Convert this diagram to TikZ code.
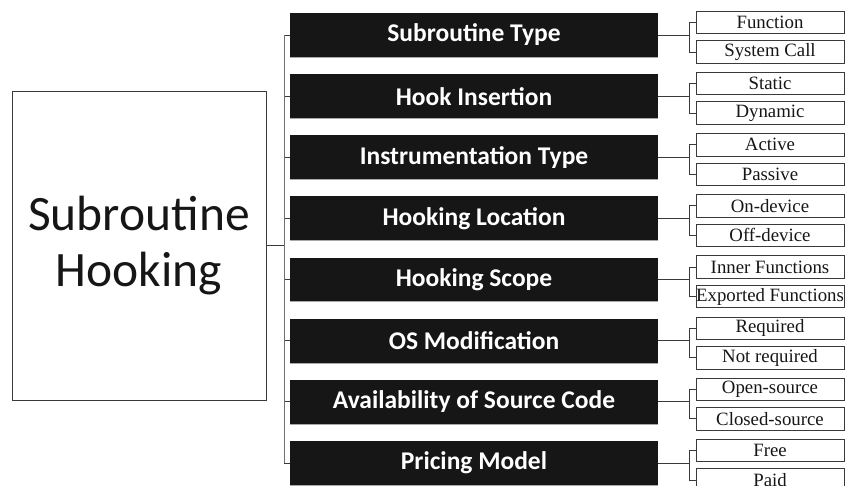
\documentclass[tikz,border=0pt]{standalone}
\usepackage{fontspec}
\setmainfont{Liberation Serif}
\newfontfamily\calfont{Carlito}
\definecolor{barblack}{HTML}{161616}
\definecolor{linegray}{HTML}{3A3A3A}
\definecolor{stemgray}{HTML}{707070}
\begin{document}
\begin{tikzpicture}[x=1pt,y=-1pt,
  mainbox/.style={draw=linegray, line width=0.9pt, minimum width=254pt, minimum height=309pt, inner sep=0pt, align=center, text=barblack, font=\calfont\fontsize{49.5}{56}\selectfont},
  bar/.style={fill=barblack, minimum width=368pt, minimum height=44pt, inner sep=0pt, text=white, font=\calfont\bfseries\fontsize{25.5}{28}\selectfont},
  leaf/.style={draw=linegray, line width=0.8pt, minimum width=148pt, minimum height=22.5pt, inner sep=0pt, text=barblack, font=\fontsize{18.8}{22}\selectfont},
  conn/.style={draw=linegray, line width=0.9pt},
  stem/.style={draw=stemgray, line width=0.9pt}]
\useasboundingbox (0,0) rectangle (851,486);
\node[mainbox] (main) at (139,245.5) {Subroutine\\Hooking};
\foreach \i/\lab/\la/\lb in {
  1/Subroutine Type/Function/System Call,
  2/Hook Insertion/Static/Dynamic,
  3/Instrumentation Type/Active/Passive,
  4/Hooking Location/On-device/Off-device,
  5/Hooking Scope/Inner Functions/Exported Functions,
  6/OS Modification/Required/Not required,
  7/Availability of Source Code/Open-source/Closed-source,
  8/Pricing Model/Free/Paid}{
  \pgfmathsetmacro{\yc}{35+61.14*(\i-1)}
  \node[bar] (b\i) at (474,\yc) {\lab};
  \draw[stemgray!60, line width=0.8pt] (b\i.south west) -- (b\i.south east);
  \node[leaf] (la\i) at (770,\yc-12.5) {\la};
  \node[leaf] (lb\i) at (770,\yc+17) {\lb};
  \draw[conn] (la\i.west) -- ++(-6,0) coordinate (k\i) |- (lb\i.west);
  \draw[conn] (b\i.east) -- (k\i |- b\i.east);
  \draw[conn] (b\i.west) -- ++(-5.5,0);
}
\draw[stem] (b1.west) ++(-5.5,0) coordinate (s1) -- (s1 |- b8.west);
\draw[conn] (main.east) -- (s1 |- main.east);
\end{tikzpicture}
\end{document}
